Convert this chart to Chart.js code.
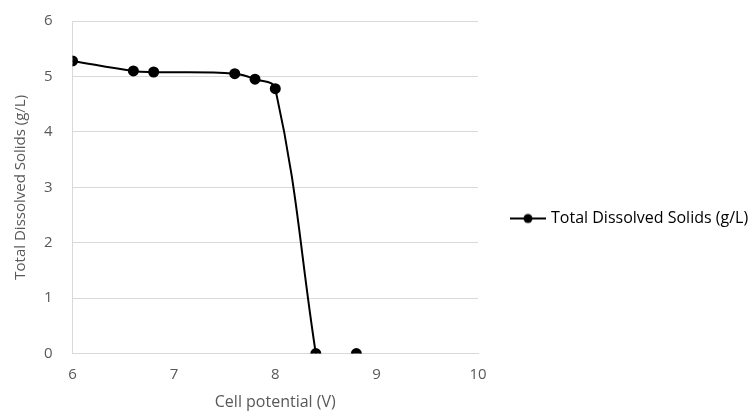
<!DOCTYPE html>
<html><head><meta charset="utf-8">
<script src="https://cdn.jsdelivr.net/npm/chart.js@4"></script>
<style>html,body{margin:0;padding:0;background:#fff}#wrap{width:753px;height:412px}</style>
</head><body><div id="wrap"><canvas id="c"></canvas></div>
<script>
const seriesName = "Total Dissolved Solids (g/L)";
const cellPotential = [6, 6.6, 6.8, 7.6, 7.8, 8.0, 8.4, 8.8];
const tdsValues = [5.28, 5.10, 5.08, 5.05, 4.95, 4.78, 0, 0];
const connectedCount = 7; // the line stops at 8.4; the 8.8 point stands alone
const xTitle = "Cell potential (V)";
const yTitle = "Total Dissolved Solids (g/L)";

const FONT = "'Open Sans', 'Noto Sans', sans-serif";
const GRAY = '#595959';

const pts = cellPotential.map((x,i)=>({x:x,y:tdsValues[i]}));

// legend marker: line with a dot
const mk = document.createElement('canvas');
mk.width = 36; mk.height = 12;
(function(){const g = mk.getContext('2d');
g.strokeStyle='#000';g.lineWidth=2;g.beginPath();g.moveTo(0,6);g.lineTo(36,6);g.stroke();
g.fillStyle='#000';g.beginPath();g.arc(18,6,4.5,0,Math.PI*2);g.fill();})();

const LEGEND_WIDTH = 275;
const LEGEND_DY = 11;
const legendTweak = {
  id: 'legendTweak',
  beforeLayout(chart) {
    const lg = chart.legend;
    if (lg && !lg._patched) {
      const origUpdate = lg.update.bind(lg);
      lg.update = (mw, mh, margins) => origUpdate(320, mh, margins);
      const origFit = lg.fit.bind(lg);
      lg.fit = function () { origFit(); this.width = LEGEND_WIDTH; };
      const origDraw = lg.draw.bind(lg);
      lg.draw = function () { const c = this.ctx; c.save(); c.translate(0, LEGEND_DY); origDraw(); c.restore(); };
      lg._patched = true;
    }
  }
};

const common = { borderColor:'#000', backgroundColor:'#000', borderWidth:2, pointRadius:4.5, pointHoverRadius:4.5, tension:0.4 };

new Chart(document.getElementById('c'), {
  type: 'line',
  plugins: [legendTweak],
  data: {
    datasets: [
      Object.assign({ label: seriesName, data: pts.slice(0, connectedCount) }, common),
      Object.assign({ label: seriesName + ' ', data: pts.slice(connectedCount), showLine: false }, common)
    ]
  },
  options: {
    responsive: true, maintainAspectRatio: false, animation: false,
    layout: { padding: { top: 3, left: 12, right: 0, bottom: 0 } },
    plugins: {
      tooltip: { enabled: false },
      legend: {
        position: 'right',
        labels: {
          color: '#000', font: { family: FONT, size: 16 },
          usePointStyle: true, pointStyleWidth: 30, padding: 35,
          generateLabels: chart => [{ text: seriesName, pointStyle: mk, fillStyle:'#000', strokeStyle:'#000', lineWidth:0, datasetIndex:0, hidden:false, fontColor:'#000' }]
        }
      }
    },
    scales: {
      x: {
        type: 'linear', min: 6, max: 10,
        ticks: { stepSize: 1, color: GRAY, font: { family: FONT, size: 15 }, padding: 12 },
        grid: { display: false, drawTicks: false },
        border: { display: true, color: '#d9d9d9' },
        title: { display: true, text: xTitle, color: GRAY, font: { family: FONT, size: 16, lineHeight: 0.9 }, padding: { top: 0, bottom: 2 } }
      },
      y: {
        min: 0, max: 6,
        ticks: { stepSize: 1, color: GRAY, font: { family: FONT, size: 15 }, padding: 12 },
        grid: { color: '#d9d9d9', drawTicks: true, tickLength: 8, tickColor: 'rgba(0,0,0,0)' },
        border: { display: true, color: '#d9d9d9' },
        title: { display: true, text: yTitle, color: GRAY, font: { family: FONT, size: 15 }, padding: { top: 0, bottom: 2 } }
      }
    }
  }
});
</script></body></html>
